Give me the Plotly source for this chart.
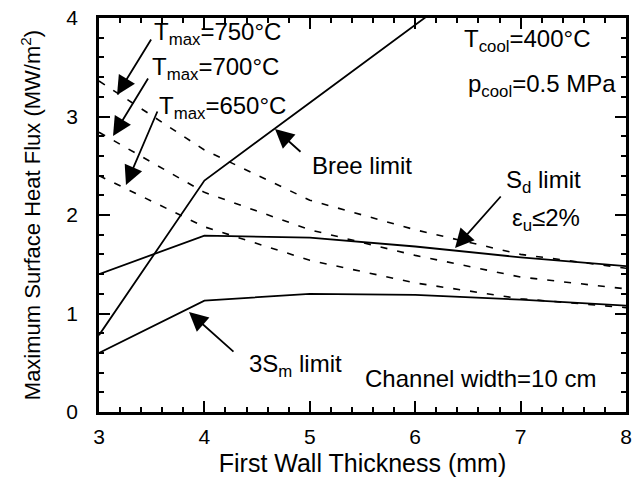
import plotly.graph_objects as go

# First wall thickness (mm)
thickness = [3, 4, 5, 6, 7, 8]

# Maximum surface heat flux limits (MW/m^2)
bree_limit = [0.78, 2.35, 3.14, 3.93, 4.72, 5.51]
sd_limit = [1.40, 1.79, 1.77, 1.68, 1.57, 1.48]
sm3_limit = [0.60, 1.13, 1.20, 1.19, 1.14, 1.08]
tmax_750 = [3.36, 2.66, 2.15, 1.85, 1.60, 1.46]
tmax_700 = [2.84, 2.23, 1.85, 1.59, 1.37, 1.25]
tmax_650 = [2.40, 1.88, 1.54, 1.31, 1.15, 1.06]

FONT = "Liberation Sans, Arial, Helvetica, sans-serif"

fig = go.Figure()

solid = dict(color="black", width=1.8)
dashed = dict(color="black", width=1.6, dash="7px,10px")

for name, ys in [("Bree limit", bree_limit), ("Sd limit", sd_limit), ("3Sm limit", sm3_limit)]:
    fig.add_trace(go.Scatter(x=thickness, y=ys, mode="lines", line=solid, name=name,
                             showlegend=False, hoverinfo="skip"))
for name, ys in [("Tmax=750°C", tmax_750), ("Tmax=700°C", tmax_700), ("Tmax=650°C", tmax_650)]:
    fig.add_trace(go.Scatter(x=thickness, y=ys, mode="lines", line=dashed, name=name,
                             showlegend=False, hoverinfo="skip"))

txt = dict(family=FONT, size=24, color="black")


def sub(s):
    return f"<sub>{s}</sub>"


labels = [
    ("T" + sub("max") + "=750°C", 3.50, 3.84),
    ("T" + sub("max") + "=700°C", 3.48, 3.49),
    ("T" + sub("max") + "=650°C", 3.55, 3.09),
    ("T" + sub("cool") + "=400°C", 6.44, 3.77),
    ("p" + sub("cool") + "=0.5 MPa", 6.48, 3.31),
    ("Bree limit", 5.00, 2.50),
    ("S" + sub("d") + " limit", 6.84, 2.34),
    ("ε" + sub("u") + "≤2%", 6.90, 1.95),
    ("3S" + sub("m") + " limit", 4.40, 0.47),
    ("Channel width=10 cm", 5.50, 0.34),
]
for text, x, y in labels:
    fig.add_annotation(x=x, y=y, xref="x", yref="y", text=text, showarrow=False,
                       xanchor="left", yanchor="middle", font=txt)

# arrows: (head x, head y, tail x, tail y)
arrows = [
    (3.171, 3.218, 3.503, 3.797),
    (3.133, 2.802, 3.474, 3.401),
    (3.256, 2.305, 3.560, 3.066),
    (4.670, 2.873, 4.926, 2.629),
    (6.378, 1.665, 6.824, 2.203),
    (3.854, 1.015, 4.290, 0.599),
]
for hx, hy, ax_, ay_ in arrows:
    fig.add_annotation(x=hx, y=hy, ax=ax_, ay=ay_, xref="x", yref="y", axref="x", ayref="y",
                       text="", showarrow=True, arrowhead=2, arrowsize=2.1, arrowwidth=1.8,
                       arrowcolor="black")

axis_common = dict(
    showline=True, linecolor="black", linewidth=2.5, mirror="allticks",
    ticks="inside", ticklen=11, tickwidth=2, tickcolor="black",
    minor=dict(ticks="inside", ticklen=5, tickwidth=1.8, tickcolor="black", showgrid=False),
    showgrid=False, zeroline=False, automargin=False,
    tickfont=dict(family=FONT, size=21, color="black"),
)

fig.update_layout(
    width=641, height=477,
    margin=dict(l=99, r=15, t=18, b=65),
    paper_bgcolor="white", plot_bgcolor="white",
    showlegend=False,
    xaxis=dict(range=[3, 8], dtick=1, tick0=3,
               title=dict(text="First Wall Thickness (mm)",
                          font=dict(family=FONT, size=25, color="black"), standoff=10),
               ticklabelstandoff=4, **axis_common),
    yaxis=dict(range=[0, 4], dtick=1, tick0=0,
               title=dict(text="Maximum Surface Heat Flux (MW/m<sup>2</sup>)",
                          font=dict(family=FONT, size=22, color="black"), standoff=20),
               ticklabelstandoff=14, **axis_common),
)
fig.update_xaxes(minor_dtick=0.2)
fig.update_yaxes(minor_dtick=0.2)

fig.write_html("out.html")
